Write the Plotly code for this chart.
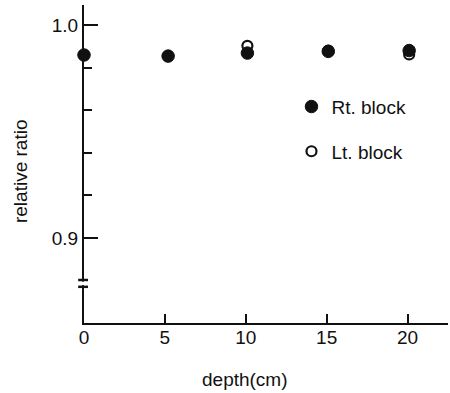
import plotly.graph_objects as go

depth = [0, 5.2, 10.1, 15.1, 20.1]
rt_block = [0.9859, 0.9854, 0.9868, 0.9876, 0.9880]
lt_block = [0.9859, 0.9854, 0.9902, 0.9880, 0.9862]

x_ticks = [0, 5, 10, 15, 20]
x_tick_labels = ["0", "5", "10", "15", "20"]
y_major = [0.9, 1.0]
y_major_labels = ["0.9", "1.0"]
y_minor = [0.92, 0.94, 0.96, 0.98]
break_marks = [0.8802, 0.8770]
x_title = "depth(cm)"
y_title = "relative ratio"

FONT = "Liberation Sans, Arial, Helvetica, sans-serif"
INK = "#111111"
FS = 19

fig = go.Figure()
fig.add_trace(go.Scatter(
    x=depth, y=lt_block, mode="markers", name="Lt. block",
    legendgroup="lt", legendrank=2, cliponaxis=False,
    marker=dict(symbol="circle", size=10, color="white",
                line=dict(color=INK, width=2.2)),
))
fig.add_trace(go.Scatter(
    x=depth, y=rt_block, mode="markers", name="Rt. block",
    legendgroup="rt", legendrank=1, cliponaxis=False,
    marker=dict(symbol="circle", size=12.5, color=INK,
                line=dict(color=INK, width=1)),
))

# axis break marks
for yv in break_marks:
    fig.add_shape(type="line", xref="paper", yref="y",
                  x0=-0.016, x1=0.011, y0=yv, y1=yv,
                  line=dict(color=INK, width=2.5))
fig.add_shape(type="rect", xref="paper", yref="y",
              x0=-0.006, x1=0.006, y0=break_marks[1] + 0.0008, y1=break_marks[0] - 0.0008,
              line=dict(width=0), fillcolor="white")

fig.add_annotation(text=x_title, xref="paper", yref="paper", x=0.442, y=-0.179,
                   xanchor="center", yanchor="middle", showarrow=False,
                   font=dict(size=FS, family=FONT, color=INK))
fig.add_annotation(text=y_title, xref="paper", yref="paper", x=-0.173, y=0.478,
                   xanchor="center", yanchor="middle", showarrow=False, textangle=-90,
                   font=dict(size=FS, family=FONT, color=INK))

fig.update_layout(
    width=450, height=393,
    margin=dict(l=84, r=2, t=5, b=70),
    paper_bgcolor="white", plot_bgcolor="white",
    font=dict(family=FONT, size=FS, color=INK),
    showlegend=True,
    legend=dict(x=0.57, y=0.74, xanchor="left", yanchor="top",
                traceorder="grouped", tracegroupgap=17,
                font=dict(size=FS), bgcolor="rgba(0,0,0,0)",
                itemwidth=30),
    xaxis=dict(
        range=[0, 22.5], showline=True, linewidth=2, linecolor=INK,
        showgrid=False, zeroline=False, automargin=False,
        tickmode="array", tickvals=x_ticks, ticktext=x_tick_labels,
        ticks="inside", ticklen=9, tickwidth=2, tickcolor=INK,
        tickfont=dict(size=FS), ticklabelstandoff=-4,
    ),
    yaxis=dict(
        range=[0.86, 1.0094], showline=True, linewidth=2, linecolor=INK,
        showgrid=False, zeroline=False, automargin=False,
        tickmode="array", tickvals=y_major, ticktext=y_major_labels,
        ticks="inside", ticklen=14, tickwidth=2, tickcolor=INK,
        tickfont=dict(size=FS),
        minor=dict(tickmode="array", tickvals=y_minor, ticks="inside",
                   ticklen=8, tickwidth=2, tickcolor=INK, showgrid=False),
    ),
)

fig.write_html("out.html", config={"displayModeBar": False},
               post_script="document.body.style.margin='0';")
